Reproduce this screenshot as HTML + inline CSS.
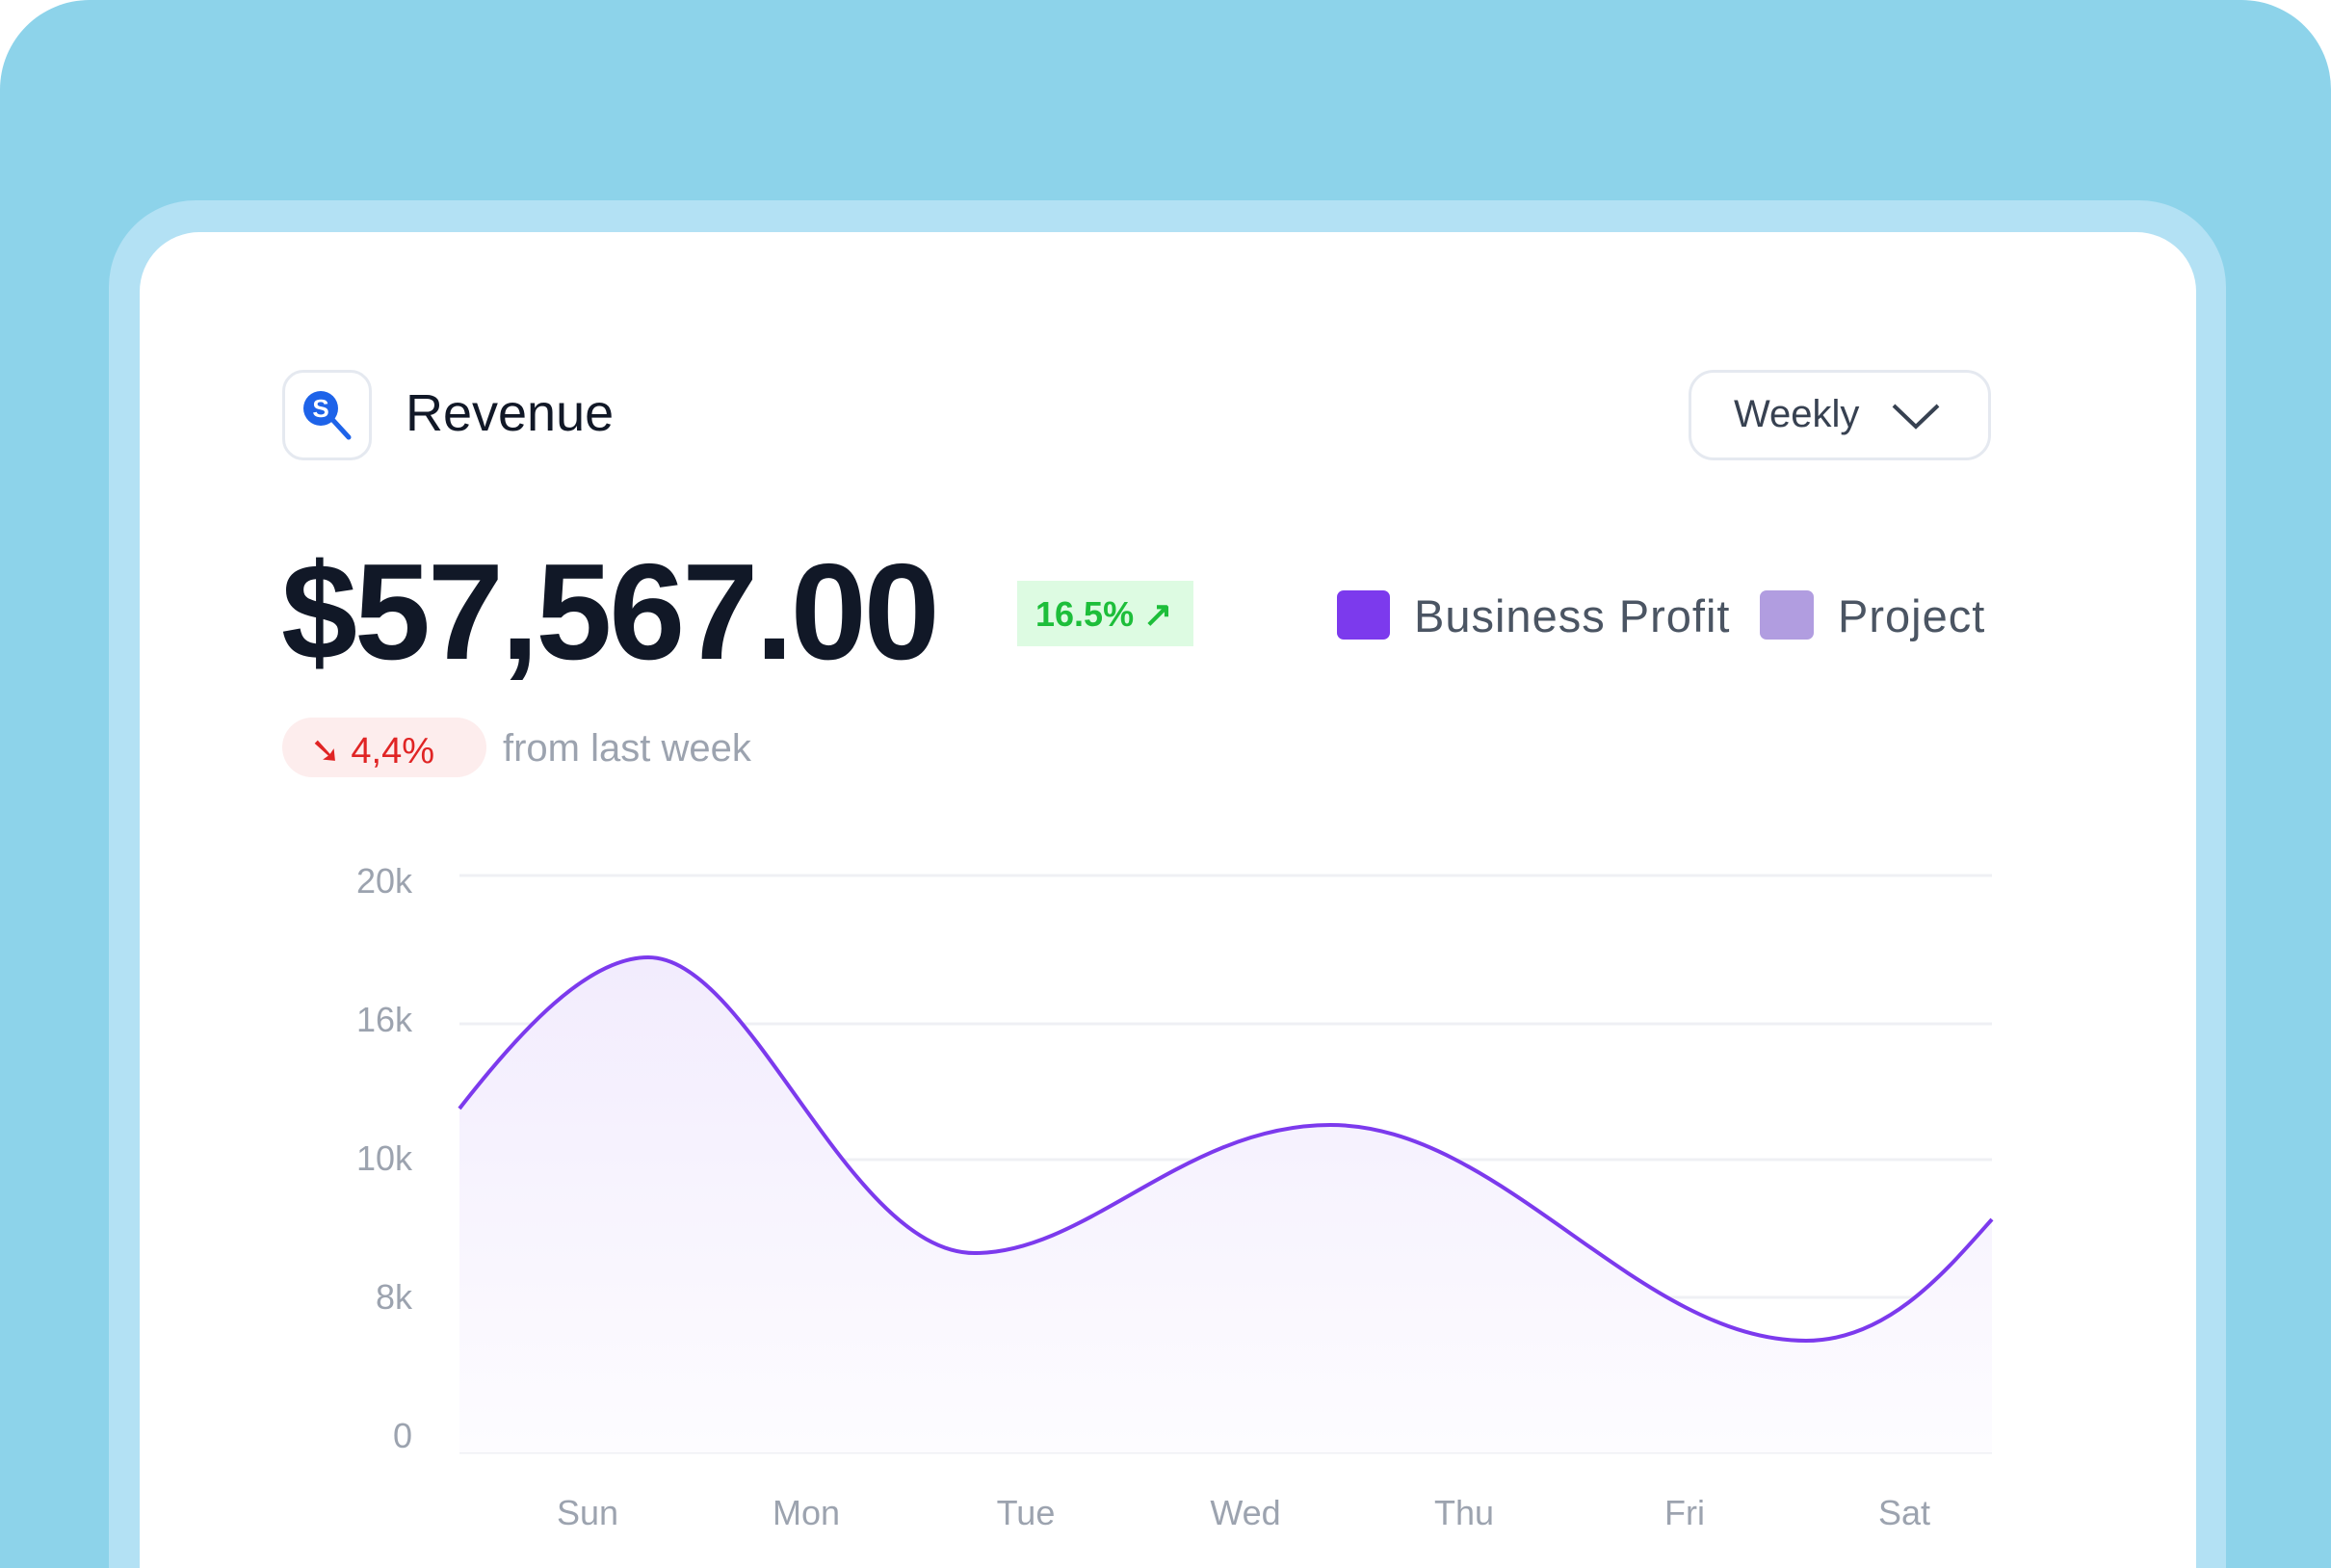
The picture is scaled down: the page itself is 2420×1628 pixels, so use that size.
<!DOCTYPE html>
<html><head><meta charset="utf-8"><style>
*{margin:0;padding:0;box-sizing:border-box}
html,body{width:2420px;height:1628px;overflow:hidden}
body{background:#fff;font-family:"Liberation Sans",sans-serif;position:relative}
.bg{position:absolute;left:0;top:0;width:2420px;height:1628px;background:#8DD3EA;border-radius:93px 93px 0 0}
.frame{position:absolute;left:113px;top:208px;width:2198px;height:1420px;background:#B3E1F4;border-radius:90px 90px 0 0}
.card{position:absolute;left:145px;top:241px;width:2135px;height:1387px;background:#fff;border-radius:62px 62px 0 0}
.abs{position:absolute}
</style></head><body>
<div class="bg"></div><div class="frame"></div><div class="card"></div>
<div class="abs" style="left:293px;top:384px;width:93px;height:94px;border:3px solid #E5E9F0;border-radius:22px"></div>
<svg class="abs" style="left:310px;top:400px" width="60" height="60" viewBox="0 0 60 60">
<line x1="30" y1="30" x2="52" y2="54" stroke="#1E63E9" stroke-width="5" stroke-linecap="round"/>
<circle cx="23" cy="24" r="18" fill="#1E63E9"/>
<text x="23" y="33" font-family="Liberation Sans" font-weight="bold" font-size="26" fill="#fff" text-anchor="middle">S</text></svg>
<div class="abs" style="left:421px;top:398px;font-size:54px;color:#111827">Revenue</div>
<div class="abs" style="left:1753px;top:384px;width:314px;height:94px;border:3px solid #E5E9F0;border-radius:26px"></div>
<div class="abs" style="left:1800px;top:408px;font-size:40px;color:#374151">Weekly</div>
<svg class="abs" style="left:1962px;top:415px" width="54" height="34"><polyline points="4,6 27,28 50,6" fill="none" stroke="#374151" stroke-width="4"/></svg>
<div class="abs" style="left:292px;top:554px;font-size:142px;font-weight:bold;color:#111827;letter-spacing:-3px">$57,567.00</div>
<div class="abs" style="left:1056px;top:603px;width:183px;height:68px;background:#DDFBE2"></div>
<div class="abs" style="left:1075px;top:617px;font-size:36px;color:#1DBE3A;font-weight:bold">16.5% ↗</div>
<div class="abs" style="left:1388px;top:613px;width:55px;height:51px;background:#7C3AED;border-radius:7px"></div>
<div class="abs" style="left:1468px;top:612px;font-size:47px;color:#4B5563;letter-spacing:1px">Business Profit</div>
<div class="abs" style="left:1827px;top:613px;width:56px;height:51px;background:#B19DE0;border-radius:7px"></div>
<div class="abs" style="left:1908px;top:612px;font-size:47px;color:#4B5563;letter-spacing:1px">Project</div>
<div class="abs" style="left:293px;top:745px;width:212px;height:62px;background:#FDEDED;border-radius:31px"></div>
<div class="abs" style="left:322px;top:757px;font-size:38px;color:#E02424">➘ 4,4%</div>
<div class="abs" style="left:522px;top:755px;font-size:40px;color:#9CA3AF">from last week</div>
<svg class="abs" style="left:0;top:0" width="2420" height="1628">
<defs><linearGradient id="g" x1="0" y1="0" x2="0" y2="1"><stop offset="0" stop-color="#F2ECFD"/><stop offset="1" stop-color="#FDFCFF"/></linearGradient></defs>
<g stroke="#EFF0F4" stroke-width="3">
<line x1="477" y1="909" x2="2068" y2="909"/><line x1="477" y1="1063" x2="2068" y2="1063"/>
<line x1="477" y1="1204" x2="2068" y2="1204"/><line x1="477" y1="1347" x2="2068" y2="1347"/>
<line x1="477" y1="1508" x2="2068" y2="1508"/></g>
<path d="M477,1151 C540,1070 610,994 673,994 C780,994 880,1301 1012,1301 C1130,1301 1230,1168 1381,1168 C1560,1168 1700,1392 1875,1392 C1960,1392 2020,1320 2068,1266 L2068,1508 L477,1508 Z" fill="url(#g)"/>
<path d="M477,1151 C540,1070 610,994 673,994 C780,994 880,1301 1012,1301 C1130,1301 1230,1168 1381,1168 C1560,1168 1700,1392 1875,1392 C1960,1392 2020,1320 2068,1266" fill="none" stroke="#7C3AED" stroke-width="4"/>
<g font-family="Liberation Sans" font-size="36" fill="#9CA3AF" text-anchor="end">
<text x="428" y="927">20k</text><text x="428" y="1071">16k</text><text x="428" y="1215">10k</text><text x="428" y="1359">8k</text><text x="428" y="1503">0</text></g>
<g font-family="Liberation Sans" font-size="36" fill="#9CA3AF" text-anchor="middle">
<text x="610" y="1583">Sun</text><text x="837" y="1583">Mon</text><text x="1065" y="1583">Tue</text><text x="1293" y="1583">Wed</text><text x="1520" y="1583">Thu</text><text x="1749" y="1583">Fri</text><text x="1977" y="1583">Sat</text></g>
</svg>
</body></html>
